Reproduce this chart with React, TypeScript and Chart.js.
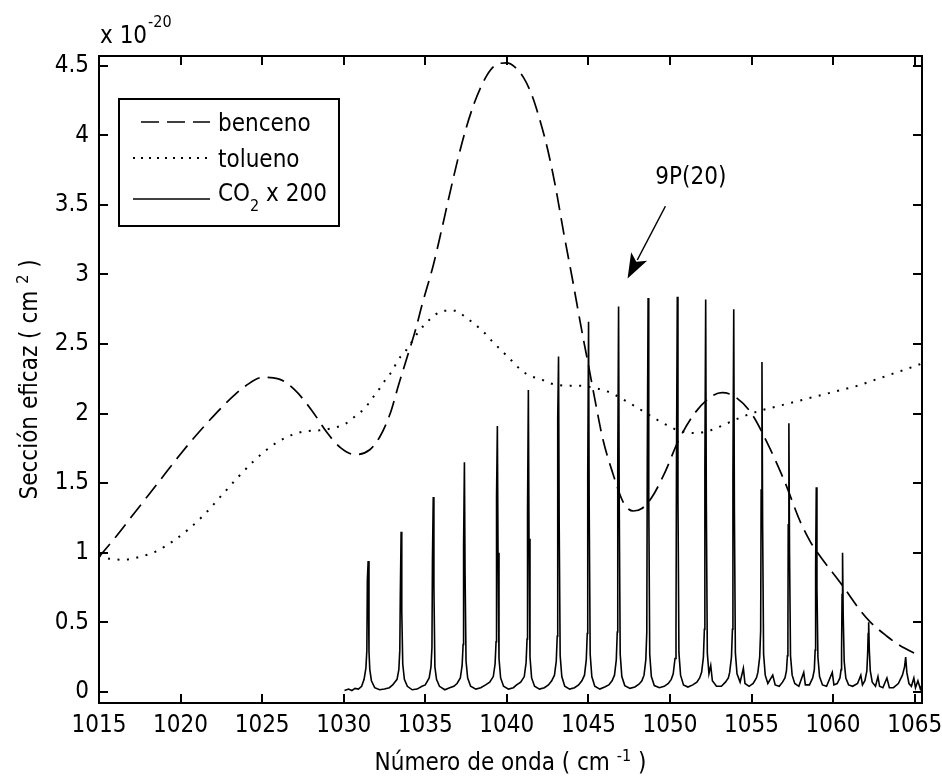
import React, { useEffect, useRef } from 'react';
import { Chart, registerables } from 'chart.js';

Chart.register(...registerables);

const xTicks = [1015, 1020, 1025, 1030, 1035, 1040, 1045, 1050, 1055, 1060, 1065];
const yTicks = [0, 0.5, 1, 1.5, 2, 2.5, 3, 3.5, 4, 4.5];
const xLimits = [1015, 1065.45];
const yLimits = [-0.08, 4.57];

const benceno: [number, number][] = [
  [1015, 0.97], [1016, 1.11], [1017, 1.26], [1018, 1.41], [1019, 1.56], [1020, 1.71],
  [1021, 1.85], [1022, 1.98], [1023, 2.1], [1024, 2.2], [1025, 2.26], [1026, 2.25],
  [1027, 2.17], [1028, 2.03], [1029, 1.86], [1029.8, 1.755], [1030.7, 1.705], [1031.6, 1.74],
  [1032.2, 1.83], [1032.85, 2.0], [1033.35, 2.2], [1033.9, 2.41], [1034.4, 2.6], [1034.8, 2.78],
  [1035.5, 3.07], [1036.0, 3.32], [1036.5, 3.58], [1037.0, 3.83], [1037.5, 4.05], [1038.0, 4.23],
  [1038.5, 4.37], [1039.0, 4.47], [1039.5, 4.515], [1040.0, 4.52], [1040.5, 4.49], [1041.0, 4.42],
  [1041.5, 4.3], [1042.0, 4.12], [1042.5, 3.9], [1043.0, 3.62], [1043.5, 3.29], [1044.0, 2.98],
  [1044.4, 2.72], [1044.7, 2.53], [1045.0, 2.35], [1045.4, 2.1], [1045.9, 1.81], [1046.5, 1.57],
  [1047.15, 1.36], [1047.75, 1.3], [1048.3, 1.32], [1048.9, 1.4], [1049.7, 1.58], [1050.5, 1.8],
  [1051.5, 2.0], [1052.5, 2.12], [1053.2, 2.15], [1054, 2.12], [1055, 2.0], [1056, 1.78],
  [1057, 1.52], [1058, 1.22], [1058.6, 1.08], [1059.05, 1.0], [1060.6, 0.76], [1061.7, 0.58],
  [1062.3, 0.5], [1063.3, 0.4], [1064, 0.34], [1065.45, 0.25],
];

const tolueno: [number, number][] = [
  [1015, 0.98], [1015.5, 0.96], [1016.5, 0.95], [1017.5, 0.97], [1018.5, 1.01], [1019.5, 1.08],
  [1020.5, 1.17], [1021.5, 1.28], [1022.5, 1.41], [1023.5, 1.54], [1024.5, 1.66], [1025.5, 1.76],
  [1026.5, 1.83], [1027.5, 1.87], [1028.5, 1.88], [1029.5, 1.9], [1030.15, 1.93], [1030.7, 1.98],
  [1031.3, 2.04], [1031.75, 2.11], [1032.2, 2.18], [1032.6, 2.25], [1033.0, 2.31], [1033.3, 2.38],
  [1033.8, 2.45], [1034.2, 2.52], [1034.6, 2.59], [1035.05, 2.65], [1035.6, 2.71], [1036.2, 2.74],
  [1036.8, 2.74], [1037.4, 2.7], [1037.95, 2.65], [1038.55, 2.59], [1039.1, 2.52], [1039.7, 2.45],
  [1040.3, 2.38], [1040.9, 2.31], [1041.45, 2.27], [1042.05, 2.25], [1042.6, 2.22], [1043.8, 2.2],
  [1044.4, 2.2], [1045.55, 2.18], [1046.15, 2.16], [1046.7, 2.13], [1047.3, 2.09], [1047.9, 2.05],
  [1048.45, 2.01], [1049.0, 1.97], [1049.6, 1.93], [1050.5, 1.88], [1051.5, 1.86], [1052.5, 1.88],
  [1053.5, 1.93], [1054.5, 1.98], [1055.5, 2.02], [1056.5, 2.05], [1057.5, 2.08], [1058.5, 2.11],
  [1059.5, 2.14], [1060.5, 2.17], [1061.5, 2.2], [1062.5, 2.24], [1063.5, 2.28], [1064.5, 2.32],
  [1065.45, 2.36],
];

const co2: [number, number][] = [
  [1030.05, 0.01], [1030.3, 0.02], [1030.5, 0.01], [1030.7, 0.025], [1030.9, 0.02], [1031.1, 0.04],
  [1031.25, 0.09], [1031.36, 0.17], [1031.42, 0.3], [1031.45, 0.8], [1031.5, 0.94], [1031.55, 0.29],
  [1031.6, 0.16], [1031.7, 0.08], [1031.9, 0.03], [1032.2, 0.015], [1032.5, 0.02], [1032.8, 0.03],
  [1033.0, 0.05], [1033.27, 0.09], [1033.38, 0.16], [1033.44, 0.3], [1033.47, 0.69], [1033.52, 1.15],
  [1033.56, 0.58], [1033.62, 0.2], [1033.72, 0.09], [1033.9, 0.04], [1034.2, 0.015], [1034.5, 0.02],
  [1034.8, 0.04], [1035.0, 0.05], [1035.24, 0.1], [1035.35, 0.18], [1035.41, 0.32], [1035.44, 0.94],
  [1035.49, 1.4], [1035.53, 0.75], [1035.59, 0.18], [1035.69, 0.09], [1035.87, 0.04], [1036.2, 0.015],
  [1036.5, 0.03], [1036.75, 0.04], [1036.95, 0.06], [1037.15, 0.1], [1037.26, 0.19], [1037.32, 0.34],
  [1037.35, 1.05], [1037.4, 1.65], [1037.44, 0.85], [1037.5, 0.22], [1037.6, 0.1], [1037.78, 0.04],
  [1038.1, 0.02], [1038.4, 0.03], [1038.7, 0.05], [1038.95, 0.07], [1039.17, 0.11], [1039.28, 0.2],
  [1039.34, 0.36], [1039.37, 1.4], [1039.42, 1.91], [1039.46, 1.0], [1039.52, 0.24], [1039.62, 0.1],
  [1039.8, 0.04], [1040.1, 0.02], [1040.4, 0.03], [1040.6, 0.05], [1040.85, 0.07], [1041.07, 0.11],
  [1041.18, 0.21], [1041.24, 0.38], [1041.27, 1.3], [1041.32, 2.17], [1041.36, 1.1], [1041.42, 0.25],
  [1041.52, 0.1], [1041.7, 0.04], [1042.0, 0.02], [1042.3, 0.03], [1042.55, 0.05], [1042.75, 0.08],
  [1042.92, 0.12], [1043.03, 0.22], [1043.09, 0.4], [1043.12, 1.96], [1043.17, 2.41], [1043.21, 1.2],
  [1043.27, 0.26], [1043.37, 0.11], [1043.55, 0.04], [1043.85, 0.02], [1044.15, 0.03], [1044.4, 0.05],
  [1044.6, 0.08], [1044.76, 0.12], [1044.87, 0.23], [1044.93, 0.42], [1044.96, 1.55], [1045.01, 2.66],
  [1045.05, 1.3], [1045.11, 0.27], [1045.21, 0.11], [1045.39, 0.04], [1045.7, 0.02], [1046.0, 0.035],
  [1046.25, 0.05], [1046.45, 0.08], [1046.6, 0.12], [1046.71, 0.23], [1046.77, 0.43], [1046.8, 1.6],
  [1046.85, 2.77], [1046.89, 1.35], [1046.95, 0.27], [1047.05, 0.11], [1047.23, 0.045], [1047.55, 0.025],
  [1047.85, 0.035], [1048.1, 0.055], [1048.28, 0.08], [1048.41, 0.12], [1048.52, 0.23], [1048.58, 0.43],
  [1048.61, 1.65], [1048.66, 2.83], [1048.7, 1.4], [1048.76, 0.27], [1048.86, 0.11], [1049.04, 0.045],
  [1049.35, 0.03], [1049.65, 0.04], [1049.9, 0.06], [1050.08, 0.09], [1050.2, 0.13], [1050.31, 0.24],
  [1050.37, 0.44], [1050.4, 1.65], [1050.45, 2.84], [1050.49, 1.4], [1050.55, 0.28], [1050.65, 0.12],
  [1050.83, 0.05], [1051.1, 0.035], [1051.4, 0.05], [1051.65, 0.07], [1051.82, 0.1], [1051.94, 0.14],
  [1052.05, 0.25], [1052.11, 0.45], [1052.14, 1.6], [1052.19, 2.82], [1052.23, 1.35], [1052.29, 0.28],
  [1052.39, 0.13], [1052.5, 0.19], [1052.6, 0.08], [1052.85, 0.04], [1053.15, 0.04], [1053.4, 0.07],
  [1053.58, 0.1], [1053.66, 0.14], [1053.77, 0.25], [1053.83, 0.45], [1053.86, 1.55], [1053.91, 2.75],
  [1053.95, 1.3], [1054.01, 0.28], [1054.11, 0.13], [1054.3, 0.07], [1054.5, 0.17], [1054.6, 0.06],
  [1054.85, 0.04], [1055.1, 0.06], [1055.3, 0.1], [1055.39, 0.14], [1055.5, 0.25], [1055.56, 0.44],
  [1055.59, 1.45], [1055.64, 2.37], [1055.68, 1.2], [1055.74, 0.27], [1055.84, 0.12], [1056.0, 0.06],
  [1056.3, 0.12], [1056.45, 0.05], [1056.7, 0.04], [1056.9, 0.07], [1057.05, 0.1], [1057.14, 0.15],
  [1057.2, 0.26], [1057.23, 0.42], [1057.25, 1.2], [1057.29, 1.93], [1057.33, 1.0], [1057.39, 0.26],
  [1057.49, 0.12], [1057.65, 0.06], [1057.9, 0.04], [1058.2, 0.14], [1058.3, 0.05], [1058.55, 0.05],
  [1058.75, 0.1], [1058.85, 0.16], [1058.9, 0.3], [1058.93, 0.9], [1058.97, 1.47], [1059.01, 0.75],
  [1059.07, 0.25], [1059.17, 0.11], [1059.35, 0.05], [1059.6, 0.04], [1059.95, 0.14], [1060.05, 0.05],
  [1060.25, 0.06], [1060.42, 0.1], [1060.49, 0.16], [1060.52, 0.3], [1060.55, 0.7], [1060.58, 1.0],
  [1060.62, 0.55], [1060.68, 0.22], [1060.78, 0.1], [1060.95, 0.05], [1061.2, 0.04], [1061.5, 0.06],
  [1061.7, 0.12], [1061.8, 0.05], [1061.95, 0.08], [1062.07, 0.15], [1062.12, 0.28], [1062.15, 0.42],
  [1062.18, 0.5], [1062.22, 0.3], [1062.28, 0.15], [1062.4, 0.07], [1062.6, 0.04], [1062.75, 0.11],
  [1062.85, 0.04], [1063.05, 0.03], [1063.3, 0.1], [1063.45, 0.03], [1063.7, 0.03], [1064.0, 0.06],
  [1064.25, 0.12], [1064.38, 0.18], [1064.45, 0.25], [1064.52, 0.14], [1064.65, 0.06], [1064.8, 0.04],
  [1064.95, 0.1], [1065.05, 0.03], [1065.2, 0.08], [1065.35, 0.02], [1065.45, 0.05],
];

const seriesNames = ['benceno', 'tolueno', 'CO2 x 200'];
const annotationText = '9P(20)';
const annotationTextAt = [1049.1, 3.65];
const arrowFrom = [1049.72, 3.49];
const arrowTo = [1047.4, 2.97];

const FONT = "'Liberation Sans Narrow', 'Arial Narrow', 'DejaVu Sans Condensed', 'Liberation Sans', sans-serif";
const BENCENO_DASH = [17, 8];
const TOLUENO_DASH = [2, 7.5];

function font(size: number) {
  return `${size}px ${FONT}`;
}

const decorPlugin = {
  id: 'decor',
  beforeDraw(chart: any) {
    const { ctx, width, height } = chart;
    ctx.save();
    ctx.fillStyle = '#fff';
    ctx.fillRect(0, 0, width, height);
    ctx.restore();
  },
  afterDraw(chart: any) {
    const { ctx, chartArea: a, scales } = chart;
    const xs = scales.x;
    const ys = scales.y;
    ctx.save();
    ctx.strokeStyle = '#000';
    ctx.fillStyle = '#000';
    ctx.lineWidth = 2;
    ctx.setLineDash([]);
    const L = Math.round(a.left);
    const R = Math.round(a.right);
    const T = Math.round(a.top);
    const B = Math.round(a.bottom);
    ctx.beginPath();
    ctx.rect(L, T, R - L, B - T);
    ctx.stroke();
    const tl = 9;
    ctx.beginPath();
    for (const v of xTicks) {
      const px = Math.round(xs.getPixelForValue(v));
      ctx.moveTo(px, B); ctx.lineTo(px, B - tl);
      ctx.moveTo(px, T); ctx.lineTo(px, T + tl);
    }
    for (const v of yTicks) {
      const py = Math.round(ys.getPixelForValue(v));
      ctx.moveTo(L, py); ctx.lineTo(L + tl, py);
      ctx.moveTo(R, py); ctx.lineTo(R - tl, py);
    }
    ctx.stroke();
    ctx.lineWidth = 1.2;

    // exponent label
    ctx.textBaseline = 'alphabetic';
    ctx.textAlign = 'left';
    ctx.font = font(24);
    ctx.fillText('x 10', a.left + 1, 43);
    const w10 = ctx.measureText('x 10').width;
    ctx.font = font(16);
    ctx.fillText('-20', a.left + 1 + w10 + 1, 27);

    // x title
    const xt1 = 'Número de onda ( cm ';
    const xsup = '-1';
    const xt2 = ' )';
    ctx.font = font(24);
    const w1 = ctx.measureText(xt1).width;
    const w3 = ctx.measureText(xt2).width;
    ctx.font = font(16);
    const w2 = ctx.measureText(xsup).width;
    const total = w1 + w2 + w3;
    const sx = (a.left + a.right) / 2 - total / 2;
    const by = 770;
    ctx.font = font(24);
    ctx.fillText(xt1, sx, by);
    ctx.font = font(16);
    ctx.fillText(xsup, sx + w1, by - 9);
    ctx.font = font(24);
    ctx.fillText(xt2, sx + w1 + w2, by);

    // y title
    const yt1 = 'Sección eficaz ( cm ';
    const ysup = '2';
    const yt2 = ' )';
    ctx.save();
    ctx.translate(37, (a.top + a.bottom) / 2);
    ctx.rotate(-Math.PI / 2);
    ctx.font = font(24);
    const v1 = ctx.measureText(yt1).width;
    const v3 = ctx.measureText(yt2).width;
    ctx.font = font(16);
    const v2 = ctx.measureText(ysup).width;
    const vt = v1 + v2 + v3;
    const s0 = -vt / 2;
    ctx.font = font(24);
    ctx.fillText(yt1, s0, 0);
    ctx.font = font(16);
    ctx.fillText(ysup, s0 + v1, -9);
    ctx.font = font(24);
    ctx.fillText(yt2, s0 + v1 + v2, 0);
    ctx.restore();

    // legend
    const lx = a.left + 20;
    const ly = a.top + 43;
    const textX = lx + 99;
    ctx.font = font(24);
    const wCO = ctx.measureText('CO').width;
    ctx.font = font(16);
    const wSub = ctx.measureText('2').width;
    ctx.font = font(24);
    const wRest = ctx.measureText(' x 200').width;
    const lw = Math.round(textX - lx + wCO + wSub + wRest + 12);
    const lh = 127;
    ctx.fillStyle = '#fff';
    ctx.fillRect(Math.round(lx), Math.round(ly), lw, lh);
    ctx.fillStyle = '#000';
    ctx.lineWidth = 2;
    ctx.strokeRect(Math.round(lx), Math.round(ly), lw, lh);
    const rows = [ly + 23, ly + 59, ly + 100];
    const sampleR = lx + 91;
    const styles = [
      { dash: [18, 8], w: 1.7, start: lx + 22 },
      { dash: [2, 6], w: 2, start: lx + 14 },
      { dash: [], w: 1.6, start: lx + 14 },
    ];
    rows.forEach((ry, i) => {
      ctx.beginPath();
      ctx.setLineDash(styles[i].dash);
      ctx.lineWidth = styles[i].w;
      ctx.moveTo(styles[i].start, Math.round(ry));
      ctx.lineTo(sampleR, Math.round(ry));
      ctx.stroke();
    });
    ctx.setLineDash([]);
    ctx.lineWidth = 1.2;
    ctx.font = font(24);
    ctx.fillText(seriesNames[0], textX, ly + 32);
    ctx.fillText(seriesNames[1], textX, ly + 68);
    ctx.fillText('CO', textX, ly + 102);
    ctx.font = font(16);
    ctx.fillText('2', textX + wCO, ly + 112);
    ctx.font = font(24);
    ctx.fillText(' x 200', textX + wCO + wSub, ly + 102);

    // annotation
    ctx.font = font(24);
    ctx.fillText(annotationText, xs.getPixelForValue(annotationTextAt[0]), ys.getPixelForValue(annotationTextAt[1]));
    const fx = xs.getPixelForValue(arrowFrom[0]);
    const fy = ys.getPixelForValue(arrowFrom[1]);
    const tx = xs.getPixelForValue(arrowTo[0]);
    const ty = ys.getPixelForValue(arrowTo[1]);
    const dx = tx - fx, dy = ty - fy;
    const len = Math.hypot(dx, dy);
    const ux = dx / len, uy = dy / len;
    const hl = 25, hw = 9;
    const bx = tx - ux * hl, byy = ty - uy * hl;
    ctx.lineWidth = 1.5;
    ctx.beginPath();
    ctx.moveTo(fx, fy);
    ctx.lineTo(bx + ux * 4, byy + uy * 4);
    ctx.stroke();
    ctx.beginPath();
    ctx.moveTo(tx, ty);
    ctx.lineTo(bx - uy * hw, byy + ux * hw);
    ctx.lineTo(bx + ux * 6, byy + uy * 6);
    ctx.lineTo(bx + uy * hw, byy - ux * hw);
    ctx.closePath();
    ctx.fill();
    ctx.restore();
  },
};

export default function App() {
  const ref = useRef<HTMLCanvasElement | null>(null);
  useEffect(() => {
    if (!ref.current) return;
    const toPts = (arr: [number, number][]) => arr.map(([x, y]) => ({ x, y }));
    const chart = new Chart(ref.current, {
      type: 'line',
      data: {
        datasets: [
          {
            label: seriesNames[0],
            data: toPts(benceno),
            borderColor: '#000',
            borderWidth: 1.7,
            borderDash: BENCENO_DASH,
            pointRadius: 0,
            cubicInterpolationMode: 'monotone',
            fill: false,
          },
          {
            label: seriesNames[1],
            data: toPts(tolueno),
            borderColor: '#000',
            borderWidth: 2,
            borderDash: TOLUENO_DASH,
            pointRadius: 0,
            cubicInterpolationMode: 'monotone',
            fill: false,
          },
          {
            label: seriesNames[2],
            data: toPts(co2),
            borderColor: '#000',
            borderWidth: 1.6,
            pointRadius: 0,
            tension: 0,
            fill: false,
          },
        ],
      } as any,
      options: {
        responsive: false,
        animation: false,
        events: [],
        layout: { padding: { top: 56, right: 20, left: 0, bottom: 0 } },
        plugins: { legend: { display: false }, tooltip: { enabled: false }, title: { display: false } },
        scales: {
          x: {
            type: 'linear',
            min: xLimits[0],
            max: xLimits[1],
            afterBuildTicks: (s: any) => { s.ticks = xTicks.map((v) => ({ value: v })); },
            afterFit: (s: any) => { s.height = 79; s.paddingLeft = 0; s.paddingRight = 0; },
            grid: { display: false, drawTicks: false },
            border: { display: false },
            ticks: {
              color: '#000',
              font: { family: FONT, size: 24 },
              padding: 8,
              autoSkip: false,
              maxRotation: 0,
              minRotation: 0,
              callback: (v: any) => String(v),
            },
          },
          y: {
            type: 'linear',
            min: yLimits[0],
            max: yLimits[1],
            afterBuildTicks: (s: any) => { s.ticks = yTicks.map((v) => ({ value: v })); },
            afterFit: (s: any) => { s.width = 99; s.paddingTop = 0; s.paddingBottom = 0; },
            grid: { display: false, drawTicks: false },
            border: { display: false },
            ticks: {
              color: '#000',
              font: { family: FONT, size: 24 },
              padding: 10,
              autoSkip: false,
              callback: (v: any) => String(v),
            },
          },
        },
      } as any,
      plugins: [decorPlugin],
    });
    return () => chart.destroy();
  }, []);
  return (
    <div style={{ position: 'absolute', left: 0, top: 0, width: 942, height: 782, background: '#fff' }}>
      <canvas ref={ref} width={942} height={782} style={{ display: 'block', width: 942, height: 782 }} />
    </div>
  );
}
